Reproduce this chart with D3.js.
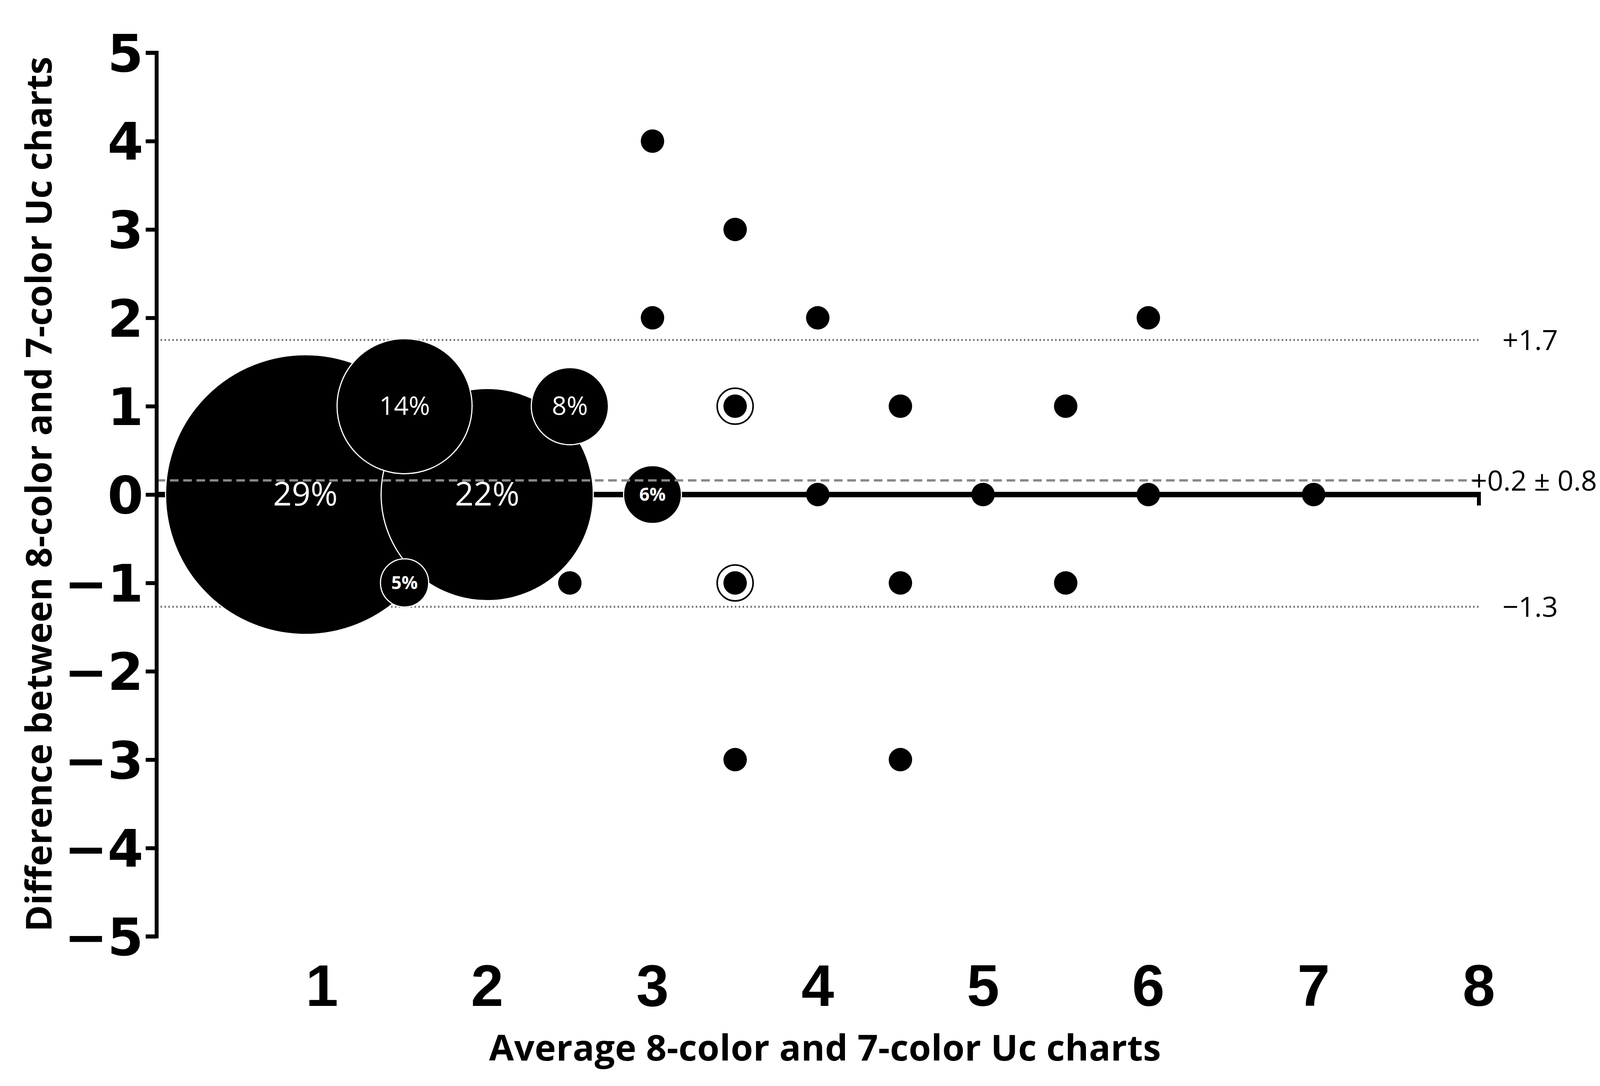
<!DOCTYPE html>
<html><head><meta charset="utf-8">
<script src="https://cdn.jsdelivr.net/npm/d3@7"></script>
<style>body{margin:0;background:#fff}</style>
</head><body><div id="chart"></div>
<script>
const xTicks = [1, 2, 3, 4, 5, 6, 7, 8];
const yTicks = [5, 4, 3, 2, 1, 0, -1, -2, -3, -4, -5];
// clustered agreement bubbles: [x, y, percent]
const bubbles = [
  [0.9, 0, 29], [2, 0, 22], [1.5, 1, 14], [2.5, 1, 8], [3, 0, 6], [1.5, -1, 5]
];
const points = [
  [3, 4], [3.5, 3], [3, 2], [4, 2], [6, 2], [3.5, 1], [4.5, 1], [5.5, 1],
  [4, 0], [5, 0], [6, 0], [7, 0], [2.5, -1], [3.5, -1], [4.5, -1], [5.5, -1],
  [3.5, -3], [4.5, -3]
];
const ringed = [[3.5, 1], [3.5, -1]];
const limits = [
  { value: 1.75, label: '+1.7', dash: '4,6', dx: 60 },
  { value: 0.16, label: '+0.2 \u00b1 0.8', dash: '22,12', dx: -20 },
  { value: -1.27, label: '\u22121.3', dash: '4,6', dx: 60 }
];

const W = 4246, H = 2780;
const svg = d3.select('#chart').append('svg').attr('width', W).attr('height', H);
const x = d3.scaleLinear().domain([0, 8]).range([401, 3786]);
const y = d3.scaleLinear().domain([-5, 5]).range([2397, 135]);
const r = d3.scaleLinear().domain([0, 29]).range([0, 358]);

// limit lines (dotted behind bubbles)
limits.filter(l => l.dash !== '22,12').forEach(l => {
  svg.append('line').attr('x1', x(0)).attr('x2', x(8)).attr('y1', y(l.value)).attr('y2', y(l.value))
    .attr('stroke', '#777').attr('stroke-width', 5).attr('stroke-dasharray', l.dash);
});

// x axis line through zero
svg.append('line').attr('x1', x(0)).attr('x2', x(8)).attr('y1', y(0)).attr('y2', y(0))
  .attr('stroke', '#000').attr('stroke-width', 14);
svg.append('line').attr('x1', x(8)).attr('x2', x(8)).attr('y1', y(0) - 7).attr('y2', y(0) + 28)
  .attr('stroke', '#000').attr('stroke-width', 10);

// bubbles
svg.selectAll('circle.b').data(bubbles).join('circle').attr('class', 'b')
  .attr('cx', d => x(d[0])).attr('cy', d => y(d[1])).attr('r', d => r(d[2]))
  .attr('fill', '#000').attr('stroke', '#fff').attr('stroke-width', 3);
svg.selectAll('text.b').data(bubbles).join('text').attr('class', 'b')
  .attr('x', d => x(d[0])).attr('y', d => y(d[1]) + (d[2] > 20 ? 28 : d[2] > 6 ? 22 : 16))
  .attr('text-anchor', 'middle').attr('fill', '#fff')
  .style('font-family', 'Open Sans, sans-serif')
  .style('font-weight', d => d[2] <= 6 ? 700 : 400)
  .style('font-size', d => (d[2] > 20 ? 84 : d[2] > 6 ? 66 : 46) + 'px')
  .text(d => d[2] + '%');

// rings
svg.selectAll('circle.ring').data(ringed).join('circle').attr('class', 'ring')
  .attr('cx', d => x(d[0])).attr('cy', d => y(d[1])).attr('r', 46)
  .attr('fill', '#fff').attr('stroke', '#000').attr('stroke-width', 4);
// points
svg.selectAll('circle.p').data(points).join('circle').attr('class', 'p')
  .attr('cx', d => x(d[0])).attr('cy', d => y(d[1])).attr('r', 30).attr('fill', '#000');

// mean dashed line on top
limits.filter(l => l.dash === '22,12').forEach(l => {
  svg.append('line').attr('x1', x(0)).attr('x2', x(8)).attr('y1', y(l.value)).attr('y2', y(l.value))
    .attr('stroke', '#888').attr('stroke-width', 6).attr('stroke-dasharray', l.dash);
});
limits.forEach(l => {
  svg.append('text').attr('x', x(8) + l.dx).attr('y', y(l.value) + 26)
    .style('font-family', 'Open Sans, sans-serif').style('font-size', '72px').attr('fill', '#000')
    .text(l.label);
});

// y axis
const yAxis = svg.append('g').attr('transform', `translate(${x(0)},0)`)
  .call(d3.axisLeft(y).tickValues(yTicks).tickSize(28).tickPadding(6).tickFormat(d3.format('d')));
yAxis.select('.domain').attr('stroke-width', 10).attr('d', `M-28,${y(5)}H0V${y(-5)}H-28`);
yAxis.selectAll('.tick line').attr('stroke-width', 10);
yAxis.selectAll('.tick text').attr('dy', '0.36em')
  .style('font-family', 'DejaVu Sans, sans-serif').style('font-weight', 900).style('font-size', '132px')
  .attr('fill', '#000');

// x tick labels at bottom
svg.selectAll('text.xt').data(xTicks).join('text').attr('class', 'xt')
  .attr('x', d => x(d)).attr('y', 2575).attr('text-anchor', 'middle')
  .style('font-family', 'Liberation Sans Narrow, Liberation Sans, sans-serif').style('font-weight', 700)
  .style('font-size', '150px').text(d => d);

// titles
svg.append('text').attr('x', 2112).attr('y', 2715).attr('text-anchor', 'middle')
  .style('font-family', 'Open Sans, sans-serif').style('font-weight', 700).style('font-size', '92px')
  .attr('textLength', 1720).text('Average 8-color and  7-color Uc charts');
svg.append('text').attr('transform', 'translate(132,1265) rotate(-90)').attr('text-anchor', 'middle')
  .style('font-family', 'Open Sans, sans-serif').style('font-weight', 700).style('font-size', '92px')
  .attr('textLength', 2240).text('Difference between 8-color and 7-color Uc charts');
</script></body></html>
